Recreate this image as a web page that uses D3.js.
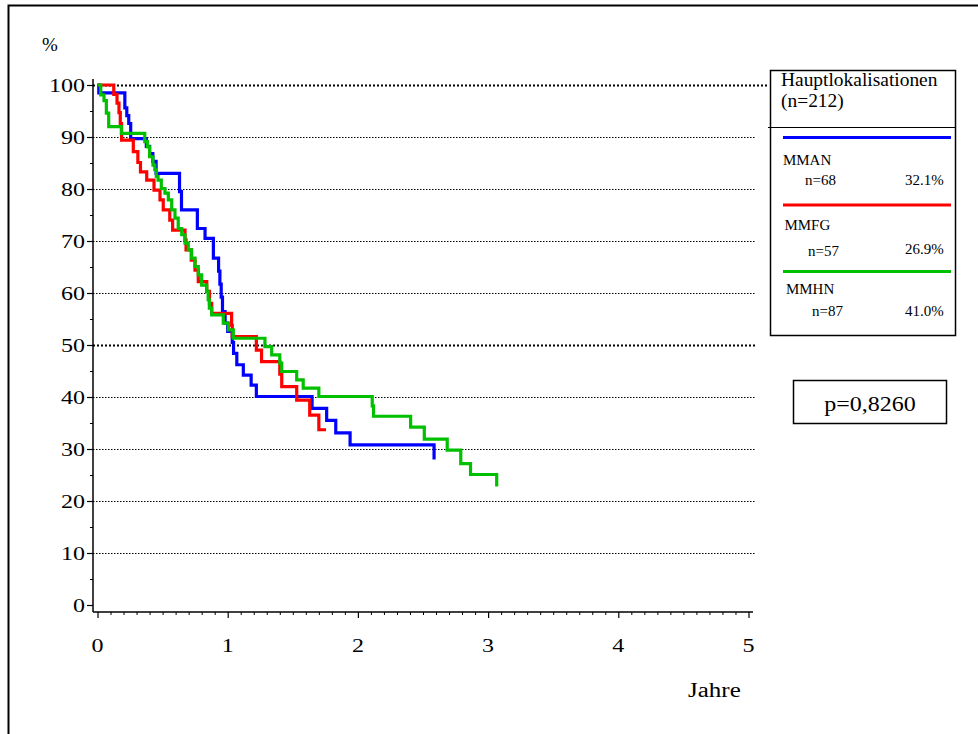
<!DOCTYPE html>
<html>
<head>
<meta charset="utf-8">
<script src="https://cdn.jsdelivr.net/npm/d3@7"></script>
<style>
  html, body { margin: 0; padding: 0; background: #fff; }
  svg { display: block; }
  svg text { font-family: "Liberation Serif", "Times New Roman", serif; fill: #000; }
</style>
</head>
<body>
<svg id="chart" width="978" height="734"></svg>
<script>
// Kaplan-Meier step data per main localisation (time in years, survival in %)
const manTimes = [0, 0.01, 0.21, 0.225, 0.24, 0.255, 0.375, 0.40, 0.425, 0.45, 0.63, 0.645, 0.767, 0.826, 0.89, 0.93, 0.94, 0.95, 0.96, 0.98, 1.0, 1.035, 1.045, 1.07, 1.12, 1.18, 1.22, 1.648, 1.76, 1.83, 1.94, 2.585];
const manSurv  = [100, 98.5, 95.6, 94.1, 92.6, 89.7, 88.2, 86.8, 85.3, 83.0, 79.5, 76.0, 72.4, 70.5, 66.7, 64.2, 61.7, 59.2, 56.4, 54.2, 52.6, 50.5, 48.4, 46.2, 44.2, 42.3, 40.1, 37.8, 35.5, 33.1, 30.8, 28.0];

const mfgTimes = [0, 0.125, 0.15, 0.165, 0.175, 0.185, 0.275, 0.31, 0.33, 0.378, 0.434, 0.48, 0.505, 0.555, 0.577, 0.672, 0.68, 0.72, 0.749, 0.774, 0.839, 0.86, 0.877, 1.03, 1.035, 1.22, 1.26, 1.40, 1.415, 1.53, 1.63, 1.70, 1.755];
const mfgSurv  = [100, 98.2, 96.5, 94.7, 92.6, 89.4, 87.2, 85.1, 83.3, 81.7, 79.8, 77.9, 76.0, 74.0, 72.1, 70.2, 68.3, 66.3, 64.4, 62.2, 60.3, 58.0, 56.1, 53.8, 51.6, 49.0, 46.8, 44.4, 42.0, 39.4, 36.5, 33.7, 33.7];

const mhnTimes = [0, 0.025, 0.05, 0.068, 0.086, 0.183, 0.363, 0.383, 0.40, 0.426, 0.44, 0.452, 0.465, 0.49, 0.518, 0.544, 0.57, 0.595, 0.62, 0.647, 0.672, 0.697, 0.723, 0.749, 0.774, 0.80, 0.839, 0.85, 0.859, 0.877, 0.966, 1.005, 1.043, 1.286, 1.338, 1.40, 1.415, 1.53, 1.58, 1.70, 2.11, 2.12, 2.405, 2.51, 2.686, 2.79, 2.865, 3.066];
const mhnSurv  = [100, 98.1, 97.0, 94.6, 92.0, 90.7, 89.1, 88.1, 86.2, 84.6, 83.7, 82.4, 81.7, 80.1, 79.2, 77.9, 76.0, 74.4, 72.4, 71.2, 69.6, 68.3, 66.7, 65.1, 63.5, 61.5, 60.3, 58.7, 57.1, 55.8, 54.2, 52.9, 51.3, 49.7, 48.1, 46.5, 44.9, 43.3, 41.7, 40.1, 38.3, 36.3, 34.2, 31.9, 29.8, 27.2, 25.1, 22.8];

const groupNames  = ["MMAN", "MMFG", "MMHN"];
const groupN      = ["n=68", "n=57", "n=87"];
const groupShare  = ["32.1%", "26.9%", "41.0%"];
const groupColors = ["#0000ff", "#ff0000", "#00c000"];

const yTicks = [0, 10, 20, 30, 40, 50, 60, 70, 80, 90, 100];
const xTicks = [0, 1, 2, 3, 4, 5];
const legendTitle = ["Hauptlokalisationen", "(n=212)"];
const pValueLabel = "p=0,8260";

const svg = d3.select("#chart");

// outer frame
svg.append("rect")
  .attr("x", 8.5).attr("y", 5.5).attr("width", 1000).attr("height", 800)
  .attr("fill", "none").attr("stroke", "#000").attr("stroke-width", 2);

const x = d3.scaleLinear().domain([0, 5]).range([97.5, 748.5]);
const y = d3.scaleLinear().domain([0, 100]).range([605, 85]);

const axisX0 = 93, axisY0 = 612;

// wide serif text: glyphs are stretched horizontally
function wideText(parent, px, py, str, size, sx, anchor) {
  return parent.append("text")
    .attr("transform", `translate(${px},${py}) scale(${sx},1)`)
    .attr("text-anchor", anchor || "start")
    .style("font-size", size + "px")
    .text(str);
}

// horizontal dotted grid lines
svg.append("g").selectAll("line")
  .data(yTicks.filter(v => v > 0))
  .join("line")
  .attr("x1", axisX0)
  .attr("x2", d => d === 100 ? 768 : 755)
  .attr("y1", d => y(d) + 0.5)
  .attr("y2", d => y(d) + 0.5)
  .attr("stroke", "#000")
  .attr("stroke-width", d => (d === 100 || d === 50) ? 2 : 1)
  .attr("stroke-dasharray", d => (d === 100 || d === 50) ? "2,2" : "1.5,1.5");

// y axis ticks (major + minor)
svg.append("g")
  .attr("transform", `translate(${axisX0},0)`)
  .call(d3.axisLeft(y).tickValues(yTicks).tickSize(6).tickFormat(""))
  .call(g => g.select(".domain").remove())
  .selectAll("line").attr("stroke-width", 1.2);
svg.append("g")
  .attr("transform", `translate(${axisX0},0)`)
  .call(d3.axisLeft(y).tickValues(d3.range(5, 100, 10)).tickSize(3).tickFormat(""))
  .call(g => g.select(".domain").remove());
svg.append("line")
  .attr("x1", axisX0).attr("x2", axisX0).attr("y1", 79).attr("y2", axisY0)
  .attr("stroke", "#000").attr("stroke-width", 1.5);
const yLab = svg.append("g");
yTicks.forEach(v => wideText(yLab, 85, y(v) + 6.5, d3.format("d")(v), 18.5, 1.3, "end"));

// x axis ticks (major + minor)
svg.append("g")
  .attr("transform", `translate(0,${axisY0})`)
  .call(d3.axisBottom(x).tickValues(xTicks).tickSize(6).tickFormat(""))
  .call(g => g.select(".domain").remove())
  .selectAll("line").attr("stroke-width", 1.2);
svg.append("g")
  .attr("transform", `translate(0,${axisY0})`)
  .call(d3.axisBottom(x).tickValues(d3.range(0, 50).map(i => i / 10).filter(v => Math.abs(v - Math.round(v)) > 1e-6)).tickSize(3).tickFormat(""))
  .call(g => g.select(".domain").remove());
svg.append("line")
  .attr("x1", axisX0).attr("x2", 753).attr("y1", axisY0).attr("y2", axisY0)
  .attr("stroke", "#000").attr("stroke-width", 1.5);
const xLab = svg.append("g");
xTicks.forEach(v => wideText(xLab, x(v), 652, d3.format("d")(v), 18.5, 1.3, "middle"));

// axis titles
wideText(svg, 42, 51, "%", 19, 1.0, "start");
wideText(svg, 688, 697, "Jahre", 20, 1.25, "start");

// survival curves
const series = [
  { times: manTimes, surv: manSurv },
  { times: mfgTimes, surv: mfgSurv },
  { times: mhnTimes, surv: mhnSurv }
];
const line = d3.line()
  .x(d => x(d[0]))
  .y(d => y(d[1]))
  .curve(d3.curveStepAfter);

series.forEach((s, i) => {
  const pts = s.times.map((t, j) => [t, s.surv[j]]);
  svg.append("path")
    .datum(pts)
    .attr("d", line)
    .attr("fill", "none")
    .attr("stroke", groupColors[i])
    .attr("stroke-width", 3.2)
    .attr("stroke-linejoin", "miter")
    .attr("stroke-linecap", "butt");
});

// legend
const lg = svg.append("g");
lg.append("rect")
  .attr("x", 770.5).attr("y", 70.5).attr("width", 185).attr("height", 265)
  .attr("fill", "#fff").attr("stroke", "#000").attr("stroke-width", 1.5);
lg.append("line")
  .attr("x1", 768).attr("x2", 955).attr("y1", 127.5).attr("y2", 127.5)
  .attr("stroke", "#000").attr("stroke-width", 1.2);
wideText(lg, 781, 86, legendTitle[0], 18, 1.08, "start");
wideText(lg, 781, 107, legendTitle[1], 18, 1.08, "start");

const lineYs = [137.5, 205, 271.5];
const nameYs = [165, 230, 294];
const nYs = [185, 256, 316];
const nXs = [805, 808, 812];
const shareYs = [185, 254, 316];
groupNames.forEach((name, i) => {
  lg.append("line")
    .attr("x1", 783).attr("x2", 951)
    .attr("y1", lineYs[i]).attr("y2", lineYs[i])
    .attr("stroke", groupColors[i]).attr("stroke-width", 3);
  wideText(lg, 783 + i * 1.5, nameYs[i], name, 14, 1.07, "start");
  wideText(lg, nXs[i], nYs[i], groupN[i], 14, 1.07, "start");
  wideText(lg, 905, shareYs[i], groupShare[i], 14, 1.07, "start");
});

// p-value box
svg.append("rect")
  .attr("x", 793.5).attr("y", 380.5).attr("width", 153).attr("height", 43)
  .attr("fill", "none").attr("stroke", "#000").attr("stroke-width", 1.5);
wideText(svg, 870, 411, pValueLabel, 20, 1.2, "middle");
</script>
</body>
</html>
